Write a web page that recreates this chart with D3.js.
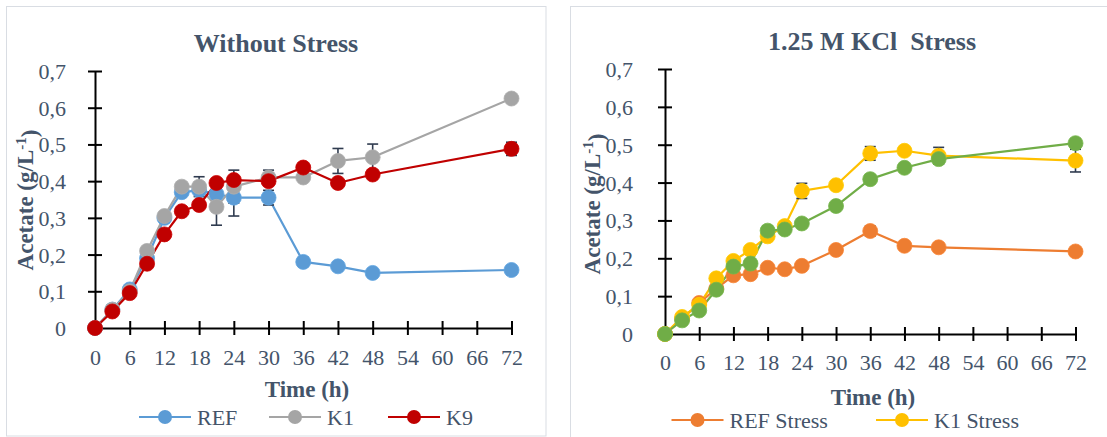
<!DOCTYPE html>
<html>
<head>
<meta charset="utf-8">
<script src="https://cdn.jsdelivr.net/npm/d3@7/dist/d3.min.js"></script>
<style>
  html, body { margin: 0; padding: 0; background: #ffffff; }
  svg { display: block; }
  svg text { font-family: "Liberation Serif", "Times New Roman", Times, serif !important; fill: #44546A; white-space: pre; }
</style>
</head>
<body>
<svg id="chart" width="1107" height="437"></svg>
<script>
// Sampling times (h) and axis ticks
const hours = [0, 3, 6, 9, 12, 15, 18, 21, 24, 30, 36, 42, 48, 72];
const xTicks = [0, 6, 12, 18, 24, 30, 36, 42, 48, 54, 60, 66, 72];
const yTicks = [0, 0.1, 0.2, 0.3, 0.4, 0.5, 0.6, 0.7];

// Acetate (g/L) without stress
const refValues = [0, 0.050, 0.105, 0.190, 0.300, 0.370, 0.375, 0.365, 0.355, 0.355, 0.180, 0.168, 0.150, 0.158];
const k1Values  = [0, 0.050, 0.100, 0.210, 0.305, 0.385, 0.385, 0.330, 0.385, 0.410, 0.410, 0.455, 0.465, 0.625];
const k9Values  = [0, 0.045, 0.095, 0.175, 0.255, 0.318, 0.335, 0.395, 0.403, 0.400, 0.437, 0.395, 0.418, 0.488];
const refErrors = [0, 0, 0, 0.005, 0.005, 0.005, 0.008, 0.008, 0.050, 0.020, 0.012, 0.005, 0.005, 0.005];
const k1Errors  = [0, 0, 0, 0.005, 0.005, 0.005, 0.027, 0.050, 0.045, 0.020, 0.005, 0.034, 0.036, 0.010];
const k9Errors  = [0, 0, 0, 0.005, 0.005, 0.005, 0.005, 0.005, 0.005, 0.005, 0.005, 0.005, 0.005, 0.018];

// Acetate (g/L) under 1.25 M KCl
const refStressValues = [0, 0.040, 0.082, 0.120, 0.155, 0.158, 0.175, 0.171, 0.180, 0.222, 0.272, 0.233, 0.229, 0.218];
const k1StressValues  = [0, 0.045, 0.077, 0.147, 0.193, 0.222, 0.258, 0.285, 0.378, 0.393, 0.477, 0.484, 0.471, 0.458];
const k9StressValues  = [0, 0.036, 0.062, 0.117, 0.178, 0.186, 0.273, 0.276, 0.292, 0.338, 0.409, 0.439, 0.462, 0.504];
const refStressErrors = [0, 0, 0, 0.005, 0.005, 0.005, 0.005, 0.005, 0.005, 0.005, 0.013, 0.005, 0.005, 0.005];
const k1StressErrors  = [0, 0, 0, 0.005, 0.005, 0.005, 0.005, 0.008, 0.020, 0.005, 0.018, 0.005, 0.022, 0.030];
const k9StressErrors  = [0, 0, 0, 0.005, 0.005, 0.005, 0.012, 0.005, 0.005, 0.005, 0.005, 0.005, 0.012, 0.012];

const titles = ["Without Stress", "1.25 M KCl  Stress"];
const xTitle = "Time (h)";

const FONT = '"Liberation Serif", "Times New Roman", Times, serif';
const svg = d3.select("#chart");
const textColor = "#44546A";
const errColor = "#2F3B4F";

const fmtY = d => d === 0 ? "0" : d3.format(".1f")(d).replace(".", ",");

function series(name, values, errors, color) {
  return { name, color, points: hours.map((h, i) => ({ h, v: values[i], e: errors[i] })) };
}

const panels = [
  {
    frame: { x: 6.5, y: 6.5, w: 539.5, h: 429.5 },
    xRange: [95, 511.5], yRange: [328, 71],
    title: titles[0], titleX: 276, titleY: 52,
    xTitleX: 307, xTitleY: 397, yTitleX: 33, yTitleY: 200,
    tickLabelDy: 37, yLabelGap: 22,
    series: [
      series("REF", refValues, refErrors, "#5B9BD5"),
      series("K1", k1Values, k1Errors, "#A5A5A5"),
      series("K9", k9Values, k9Errors, "#C00000")
    ],
    legend: { y: 417, items: [165, 295, 414] }
  },
  {
    frame: { x: 570.5, y: 6.5, w: 560, h: 460 },
    xRange: [665, 1075.5], yRange: [334, 69],
    title: titles[1], titleX: 872, titleY: 50,
    xTitleX: 873, xTitleY: 405, yTitleX: 600, yTitleY: 204,
    tickLabelDy: 36, yLabelGap: 25,
    series: [
      series("REF Stress", refStressValues, refStressErrors, "#ED7D31"),
      series("K1 Stress", k1StressValues, k1StressErrors, "#FFC000"),
      series("K9 Stress", k9StressValues, k9StressErrors, "#70AD47")
    ],
    legend: { y: 420, items: [697.5, 902] }
  }
];

panels.forEach(p => {
  const g = svg.append("g");

  g.append("rect")
    .attr("x", p.frame.x).attr("y", p.frame.y)
    .attr("width", p.frame.w).attr("height", p.frame.h)
    .attr("fill", "#ffffff").attr("stroke", "#D9DDE3").attr("stroke-width", 1);

  const x = d3.scaleLinear().domain([0, 72]).range(p.xRange);
  const y = d3.scaleLinear().domain([0, 0.7]).range(p.yRange);

  // title
  g.append("text")
    .attr("x", p.titleX).attr("y", p.titleY)
    .attr("text-anchor", "middle")
    .attr("xml:space", "preserve")
    .style("font-family", FONT)
    .style("font-size", "26px").style("font-weight", "bold")
    .text(p.title);

  // y axis
  const yAxis = g.append("g")
    .attr("transform", `translate(${p.xRange[0]},0)`)
    .call(d3.axisLeft(y).tickValues(yTicks).tickFormat(fmtY).tickSizeOuter(0).tickSizeInner(7).tickPadding(p.yLabelGap));
  yAxis.selectAll(".tick line").attr("x1", 7).attr("x2", -7);

  // x axis
  const xAxis = g.append("g")
    .attr("transform", `translate(0,${p.yRange[0]})`)
    .call(d3.axisBottom(x).tickValues(xTicks).tickFormat(d3.format("d")).tickSizeOuter(0).tickSizeInner(7));
  xAxis.selectAll(".tick line").attr("y1", -7).attr("y2", 7);
  xAxis.selectAll(".tick text").attr("y", p.tickLabelDy).attr("dy", null);

  [yAxis, xAxis].forEach(ax => {
    ax.attr("font-family", FONT).attr("font-size", 22);
    ax.select(".domain").attr("stroke", "#000").attr("stroke-width", 2);
    ax.selectAll(".tick line").attr("stroke", "#000").attr("stroke-width", 2);
    ax.selectAll(".tick text")
      .style("font-family", FONT).style("font-size", "22px")
      .attr("fill", textColor);
  });
  yAxis.selectAll(".tick text").attr("dy", "0.34em");

  // axis titles
  g.append("text")
    .attr("x", p.xTitleX).attr("y", p.xTitleY)
    .attr("text-anchor", "middle")
    .style("font-family", FONT)
    .style("font-size", "23px").style("font-weight", "bold")
    .text(xTitle);

  const yt = g.append("text")
    .attr("transform", `translate(${p.yTitleX},${p.yTitleY}) rotate(-90)`)
    .attr("text-anchor", "middle")
    .style("font-family", FONT)
    .style("font-size", "23px").style("font-weight", "bold");
  yt.append("tspan").text("Acetate (g/L");
  yt.append("tspan").attr("dy", "-0.45em").style("font-size", "15px").text("-1");
  yt.append("tspan").attr("dy", "0.45em").text(")");

  const line = d3.line().x(d => x(d.h)).y(d => y(d.v));

  // lines
  p.series.forEach(s => {
    g.append("path").datum(s.points)
      .attr("d", line).attr("fill", "none")
      .attr("stroke", s.color).attr("stroke-width", 2.2)
      .attr("stroke-linejoin", "round");
  });

  // error bars
  p.series.forEach(s => {
    const eb = g.append("g").attr("stroke", errColor).attr("stroke-width", 1.6);
    s.points.filter(d => d.e > 0).forEach(d => {
      const cx = x(d.h), y0 = y(d.v - d.e), y1 = y(d.v + d.e);
      eb.append("line").attr("x1", cx).attr("x2", cx).attr("y1", y0).attr("y2", y1);
      eb.append("line").attr("x1", cx - 5.5).attr("x2", cx + 5.5).attr("y1", y0).attr("y2", y0);
      eb.append("line").attr("x1", cx - 5.5).attr("x2", cx + 5.5).attr("y1", y1).attr("y2", y1);
    });
  });

  // markers
  p.series.forEach(s => {
    g.append("g").selectAll("circle").data(s.points).join("circle")
      .attr("cx", d => x(d.h)).attr("cy", d => y(d.v)).attr("r", 7.5)
      .attr("fill", s.color)
      .attr("stroke", d3.color(s.color).brighter(0.15)).attr("stroke-width", 0.8);
  });

  // legend
  p.legend.items.forEach((cx, i) => {
    const s = p.series[i];
    const lg = g.append("g");
    lg.append("line")
      .attr("x1", cx - 26).attr("x2", cx + 26)
      .attr("y1", p.legend.y).attr("y2", p.legend.y)
      .attr("stroke", s.color).attr("stroke-width", 2.2);
    lg.append("circle").attr("cx", cx).attr("cy", p.legend.y).attr("r", 7).attr("fill", s.color);
    lg.append("text")
      .attr("x", cx + 32).attr("y", p.legend.y + 8)
      .style("font-family", FONT)
      .style("font-size", "22px")
      .text(s.name);
  });
});
</script>
</body>
</html>
